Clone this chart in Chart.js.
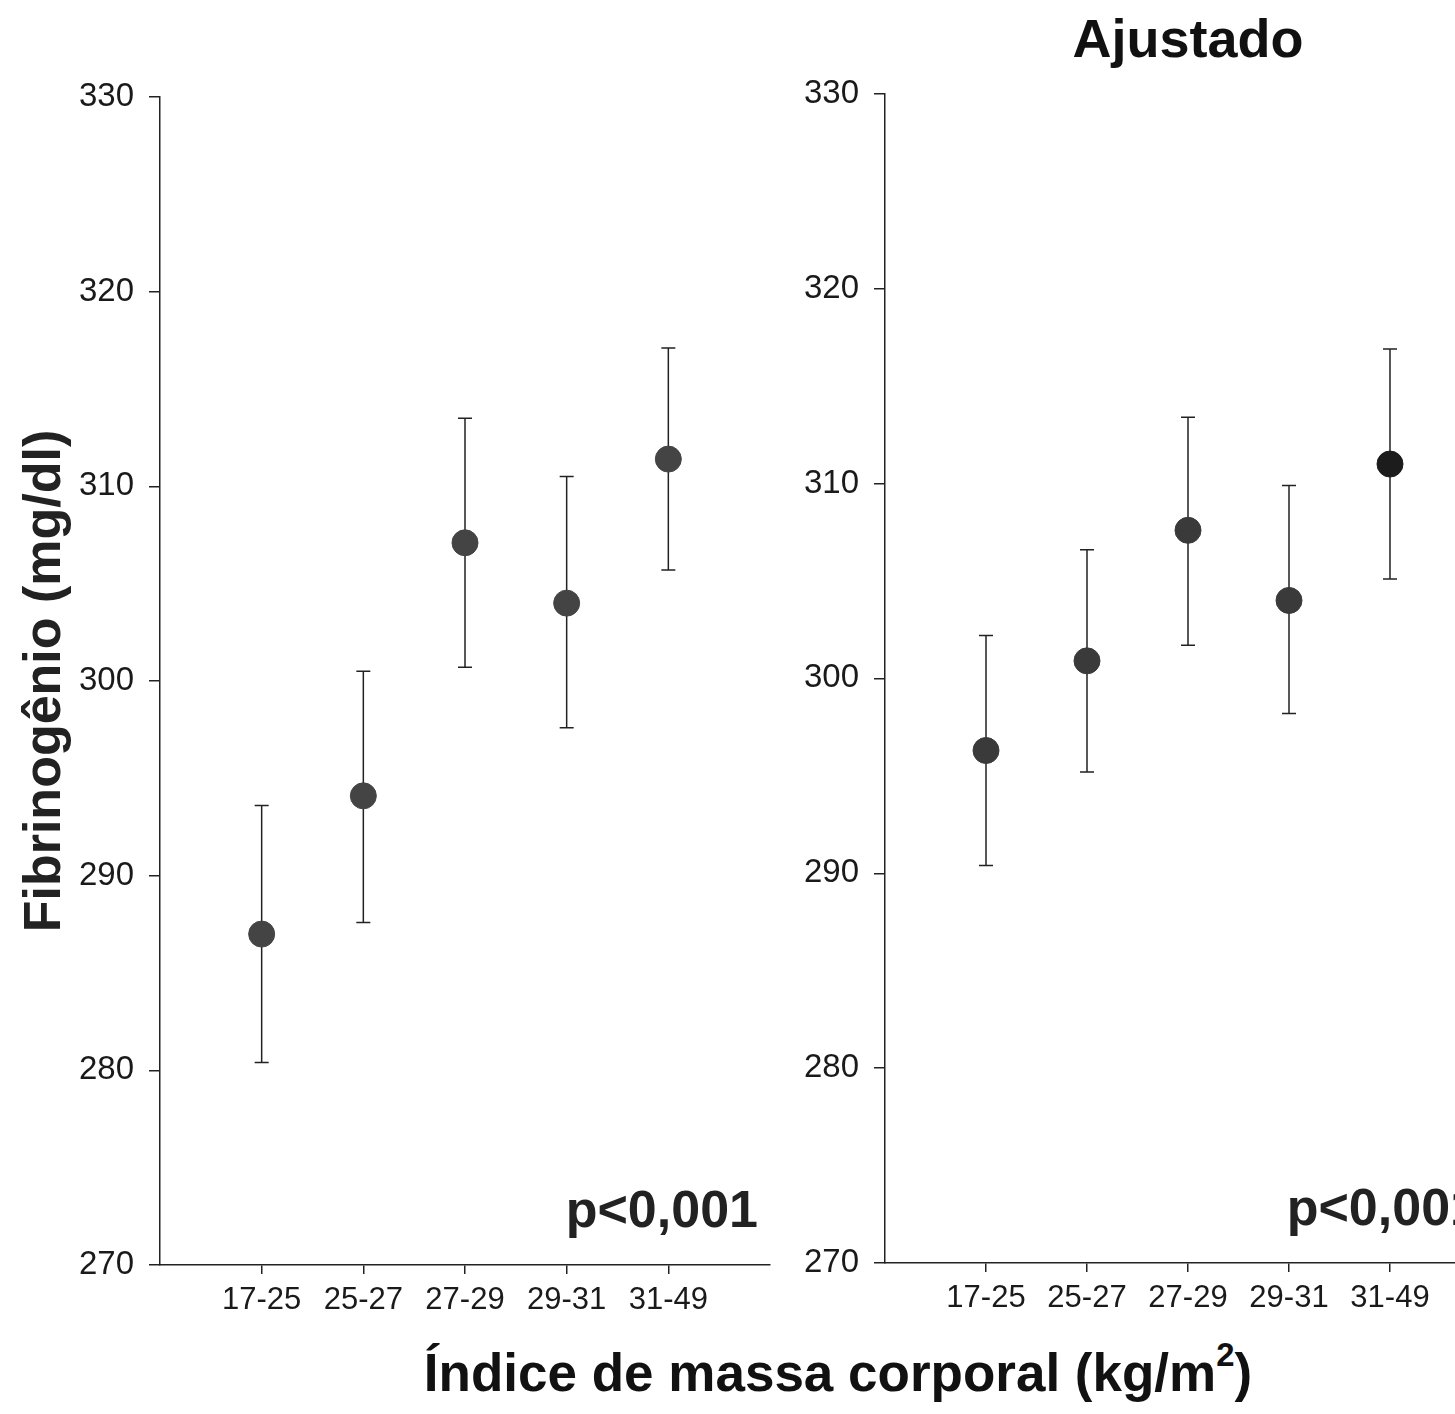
<!DOCTYPE html>
<html>
<head>
<meta charset="utf-8">
<script src="https://cdn.jsdelivr.net/npm/chart.js@4.4.1/dist/chart.umd.min.js"></script>
<style>
  body { margin: 0; width: 1455px; height: 1414px; overflow: hidden; background: #fff; position: relative; }
  canvas { position: absolute; top: 0; }
  #grafBruto { left: 0; }
  #grafAjust { left: 725px; }
  #tituloX {
    position: absolute; left: 838px; top: 1342px; transform: translateX(-50%);
    font: bold 53px "Liberation Sans", Arial, sans-serif; color: #111; white-space: nowrap;
  }
  #tituloX sup { font-size: 0.62em; vertical-align: 0.75em; line-height: 0; }
</style>
</head>
<body>
<canvas id="grafBruto" width="800" height="1320"></canvas>
<canvas id="grafAjust" width="800" height="1320"></canvas>
<div id="tituloX">Índice de massa corporal (kg/m<sup>2</sup>)</div>
<script>
// faixas de IMC
const categorias = ['17-25', '25-27', '27-29', '29-31', '31-49'];

// fibrinogênio bruto (média e limites do intervalo)
const fibBruto    = [287.0, 294.1, 307.1, 304.0, 311.4];
const fibBrutoSup = [293.6, 300.5, 313.5, 310.5, 317.1];
const fibBrutoInf = [280.4, 287.6, 300.7, 297.6, 305.7];

// fibrinogênio ajustado
const fibAjust    = [296.3, 300.9, 307.6, 304.0, 311.0];
const fibAjustSup = [302.2, 306.6, 313.4, 309.9, 316.9];
const fibAjustInf = [290.4, 295.2, 301.7, 298.2, 305.1];

const yTicks = [270, 280, 290, 300, 310, 320, 330];

const FONTE = '"Liberation Sans", Arial, sans-serif';

// desenha as barras de erro atrás dos pontos
const barrasErro = {
    id: 'barrasErro',
    beforeDatasetsDraw(chart, args, opts) {
        const ctx = chart.ctx;
        const x = chart.scales.x, y = chart.scales.y;
        ctx.save();
        ctx.strokeStyle = '#222';
        ctx.lineWidth = 1.5;
        opts.sup.forEach((s, i) => {
            const px = x.getPixelForValue(i + 1);
            const top = y.getPixelForValue(s);
            const bot = y.getPixelForValue(opts.inf[i]);
            ctx.beginPath();
            ctx.moveTo(px, top); ctx.lineTo(px, bot);
            ctx.moveTo(px - 7, top); ctx.lineTo(px + 7, top);
            ctx.moveTo(px - 7, bot); ctx.lineTo(px + 7, bot);
            ctx.stroke();
        });
        ctx.restore();
    }
};

// texto do valor de p no canto inferior direito
const valorP = {
    id: 'valorP',
    afterDraw(chart, args, opts) {
        const ctx = chart.ctx, area = chart.chartArea;
        ctx.save();
        ctx.font = 'bold 52px ' + FONTE;
        ctx.fillStyle = '#222';
        ctx.textAlign = 'right';
        ctx.textBaseline = 'alphabetic';
        ctx.fillText(opts.texto, area.right - 12, area.bottom - 38);
        ctx.restore();
    }
};

function criaGrafico(id, medias, sup, inf, cfg) {
    const ctx = document.getElementById(id).getContext('2d');
    return new Chart(ctx, {
        type: 'scatter',
        data: {
            datasets: [{
                data: medias.map((v, i) => ({ x: i + 1, y: v })),
                pointRadius: 13,
                pointHoverRadius: 13,
                pointBackgroundColor: cfg.corPontos,
                pointBorderColor: cfg.corPontos,
                pointBorderWidth: 1
            }]
        },
        options: {
            responsive: false,
            animation: false,
            events: [],
            layout: { padding: { top: cfg.padTopo, right: cfg.padDir, bottom: 0, left: 0 } },
            plugins: {
                legend: { display: false },
                tooltip: { enabled: false },
                title: cfg.titulo ? {
                    display: true,
                    text: cfg.titulo,
                    fullSize: false,
                    color: '#111',
                    font: { family: FONTE, size: 54, weight: 'bold' },
                    padding: { top: 10, bottom: 19 }
                } : { display: false },
                barrasErro: { sup: sup, inf: inf },
                valorP: { texto: cfg.p }
            },
            scales: {
                x: {
                    type: 'linear',
                    min: 0, max: 6,
                    afterBuildTicks: s => { s.ticks = categorias.map((c, i) => ({ value: i + 1 })); },
                    afterFit: s => { s.height = 1320 - cfg.baseArea; },
                    grid: { display: true, drawOnChartArea: false, drawTicks: true, tickLength: 9, color: '#222', lineWidth: 1.5 },
                    border: { display: true, color: '#222', width: 1.5 },
                    ticks: {
                        color: '#1a1a1a',
                        padding: 8,
                        maxRotation: 0,
                        font: { family: FONTE, size: 31 },
                        callback: v => categorias[v - 1] || ''
                    }
                },
                y: {
                    min: 270, max: 330,
                    afterBuildTicks: s => { s.ticks = yTicks.map(v => ({ value: v })); },
                    afterFit: s => { s.width = 160; },
                    grid: { display: true, drawOnChartArea: false, drawTicks: true, tickLength: 11, color: '#222', lineWidth: 1.5 },
                    border: { display: true, color: '#222', width: 1.5 },
                    ticks: {
                        color: '#1a1a1a',
                        padding: 15,
                        font: { family: FONTE, size: 33 }
                    },
                    title: cfg.tituloY ? {
                        display: true,
                        text: cfg.tituloY,
                        color: '#222',
                        font: { family: FONTE, size: 52, weight: 'bold' },
                        padding: { top: 14, bottom: 0 }
                    } : { display: false }
                }
            }
        },
        plugins: [barrasErro, valorP]
    });
}

criaGrafico('grafBruto', fibBruto, fibBrutoSup, fibBrutoInf, {
    corPontos: '#444',
    padTopo: 97, padDir: 30, baseArea: 1265,
    p: 'p<0,001',
    tituloY: 'Fibrinogênio (mg/dl)'
});

criaGrafico('grafAjust', fibAjust, fibAjustSup, fibAjustInf, {
    corPontos: ['#3a3a3a', '#3a3a3a', '#3a3a3a', '#3a3a3a', '#1c1c1c'],
    padTopo: 0, padDir: 34, baseArea: 1263,
    p: 'p<0,001',
    titulo: 'Ajustado'
});
</script>
</body>
</html>
